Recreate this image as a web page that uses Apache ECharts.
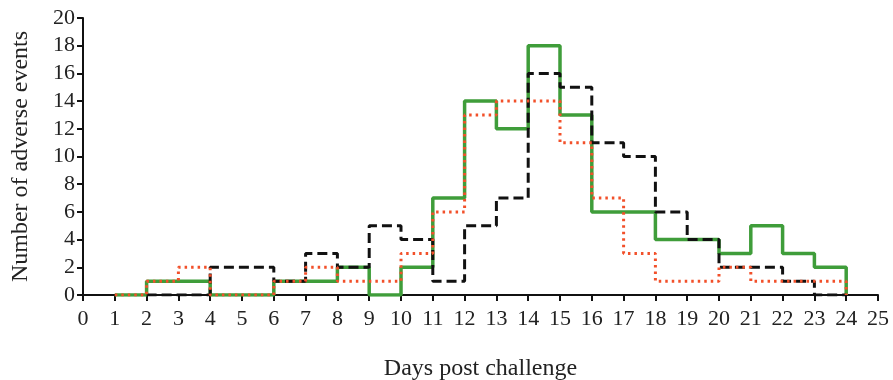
<!DOCTYPE html>
<html>
<head>
<meta charset="utf-8">
<style>
  html, body { margin: 0; padding: 0; background: #fff; }
  #chart { width: 893px; height: 380px; }
</style>
<script src="https://cdn.jsdelivr.net/npm/echarts@6/dist/echarts.min.js"></script>
</head>
<body>
<div id="chart"></div>
<script>
// Daily counts of adverse events; each value covers [day, day + 1)
const greenDays = [1,2,3,4,5,6,7,8,9,10,11,12,13,14,15,16,17,18,19,20,21,22,23];
const greenValues = [0,1,1,0,0,1,1,2,0,2,7,14,12,18,13,6,6,4,4,3,5,3,2];

const blackDays = [2,3,4,5,6,7,8,9,10,11,12,13,14,15,16,17,18,19,20,21,22,23];
const blackValues = [0,0,2,2,1,3,2,5,4,1,5,7,16,15,11,10,6,4,2,2,1,0];

const redDays = [1,2,3,4,5,6,7,8,9,10,11,12,13,14,15,16,17,18,19,20,21,22,23];
const redValues = [0,1,2,0,0,1,2,1,1,3,6,13,14,14,11,7,3,1,1,2,1,1,1];

const xTicks = [0, 25, 1];   // min, max, step
const yTicks = [0, 20, 2];

const xTitle = 'Days post challenge';
const yTitle = 'Number of adverse events';

// Step outline: one point per bin start, plus the closing edge back to zero
function steps(days, values) {
  const pts = days.map((d, i) => [d, values[i]]);
  pts.push([days[days.length - 1] + 1, 0]);
  return pts;
}

const font = '"Liberation Serif", "DejaVu Serif", serif';

const chart = echarts.init(document.getElementById('chart'), null, { renderer: 'canvas' });
chart.setOption({
  animation: false,
  backgroundColor: '#fff',
  grid: { left: 83, right: 15, top: 18, bottom: 85, containLabel: false, outerBoundsMode: 'none' },
  xAxis: {
    type: 'value',
    min: xTicks[0], max: xTicks[1], interval: xTicks[2],
    name: xTitle,
    nameLocation: 'middle',
    nameGap: 62,
    nameTextStyle: { fontFamily: font, fontSize: 24, color: '#222' },
    axisLine: { lineStyle: { color: '#111', width: 2 } },
    axisTick: { inside: false, length: 6, lineStyle: { color: '#111', width: 2 } },
    axisLabel: { fontFamily: font, fontSize: 22, color: '#222', margin: 13 },
    splitLine: { show: false }
  },
  yAxis: {
    type: 'value',
    min: yTicks[0], max: yTicks[1], interval: yTicks[2],
    name: yTitle,
    nameLocation: 'middle',
    nameGap: 50,
    nameTextStyle: { fontFamily: font, fontSize: 24, color: '#222' },
    axisLine: { show: true, lineStyle: { color: '#111', width: 2 } },
    axisTick: { show: true, inside: false, length: 6, lineStyle: { color: '#111', width: 2 } },
    axisLabel: { fontFamily: font, fontSize: 22, color: '#222', margin: 8 },
    splitLine: { show: false }
  },
  series: [
    {
      name: 'black',
      type: 'line',
      step: 'end',
      data: steps(blackDays, blackValues),
      showSymbol: false,
      z: 3,
      lineStyle: { color: '#111', width: 3, type: [10, 5] }
    },
    {
      name: 'green',
      type: 'line',
      step: 'end',
      data: steps(greenDays, greenValues),
      showSymbol: false,
      z: 2,
      lineStyle: { color: '#3f9d3a', width: 3.5, type: 'solid' }
    },
    {
      name: 'red',
      type: 'line',
      step: 'end',
      data: steps(redDays, redValues),
      showSymbol: false,
      z: 4,
      lineStyle: { color: '#f2502a', width: 3, type: [2.5, 4] }
    }
  ]
});
</script>
</body>
</html>
